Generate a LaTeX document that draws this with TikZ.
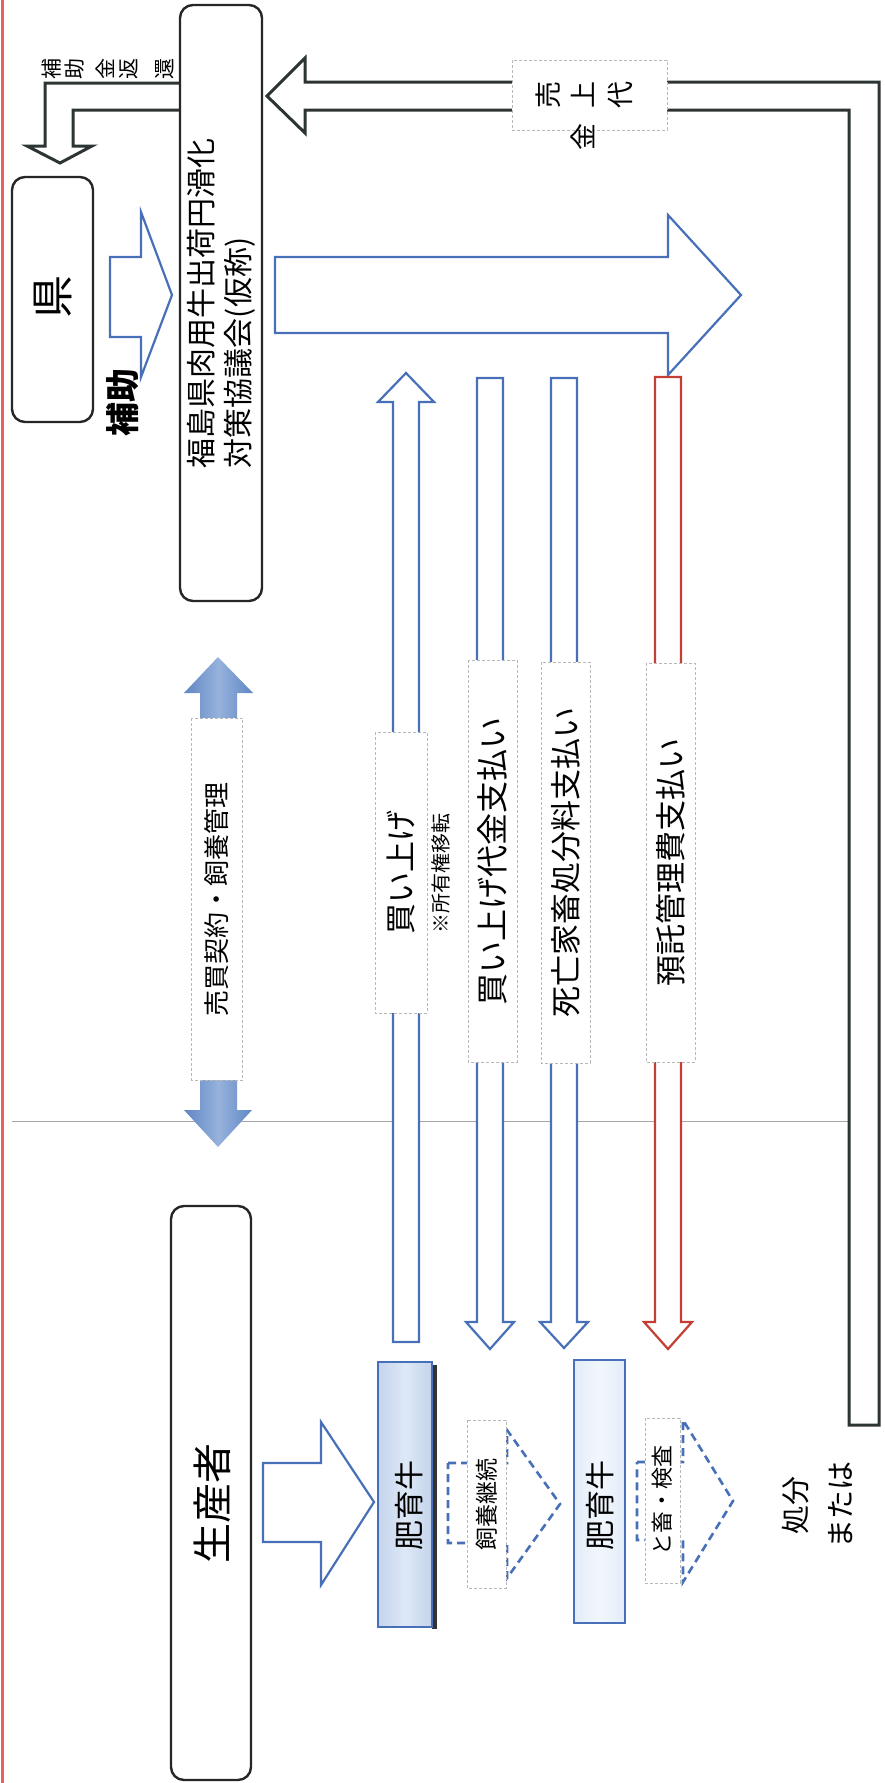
\documentclass[tikz,border=0pt]{standalone}
\usepackage{fontspec}
\setmainfont{Noto Sans CJK JP}
\definecolor{ablue}{RGB}{72,112,184}
\definecolor{fblue}{RGB}{96,134,196}
\definecolor{fbluel}{RGB}{150,178,220}
\definecolor{ared}{RGB}{196,62,52}
\definecolor{adark}{RGB}{45,52,52}
\definecolor{edgered}{RGB}{232,96,96}
\definecolor{cowa}{RGB}{196,212,236}
\definecolor{cowb}{RGB}{222,232,246}
\definecolor{cowc}{RGB}{226,236,248}
\definecolor{cowd}{RGB}{242,247,253}
\newcommand{\fsz}[2]{\fontsize{#1}{#2}\selectfont}
\begin{document}
\begin{tikzpicture}[x=1pt,y=-1pt,
  box/.style={draw=black!85, line width=2.4pt, rounded corners=13pt, fill=white, rotate=90, inner sep=0pt},
  tx/.style={rotate=90, inner sep=0pt},
  ch/.style={rotate=90, inner sep=0pt, text height=0.8em, text depth=0.2em},
  lblbox/.style={draw=black!28, densely dashed, line width=0.6pt, fill=white, inner sep=0pt},
  bluearrow/.style={draw=ablue, line width=2.2pt, fill=white, line join=miter},
  redarrow/.style={draw=ared, line width=2.2pt, fill=white, line join=miter},
  darkarrow/.style={draw=adark, line width=3pt, fill=white, line join=miter},
  dasharrow/.style={draw=ablue, line width=2.6pt, dash pattern=on 8pt off 5pt},
  cowbox/.style={draw=ablue, line width=1.3pt, rotate=90, inner sep=0pt}
]
\useasboundingbox (0,0) rectangle (885,1783);
\fill[white] (0,0) rectangle (885,1783);
% scan edge and fold line
\draw[edgered, line width=3pt] (2,0) -- (2,1783);
\draw[black!35, line width=0.8pt] (12,1121) -- (870,1121);

% arrow 補助金返還 (L-shaped)
\draw[darkarrow] (181,83) -- (45,83) -- (45,146) -- (27,146) -- (60,163) -- (92,146) -- (73,146) -- (73,110) -- (181,110);
\node[ch, font=\fsz{21}{24}] (h1) at (56,69) {補};
\node[ch, font=\fsz{21}{24}] (h2) at (79,69) {助};
\node[ch, font=\fsz{21}{24}] (h3) at (110,69) {金};
\node[ch, font=\fsz{21}{24}] (h4) at (133,69) {返};
\node[ch, font=\fsz{21}{24}] (h5) at (169,69) {還};

% arrow 売上代金 (big black return arrow)
\draw[darkarrow] (267,96) -- (305,58) -- (305,82) -- (879,82) -- (879,1425) -- (849,1425) -- (849,110) -- (305,110) -- (305,133) -- cycle;
\node[lblbox, minimum width=155pt, minimum height=70pt] (uriL) at (589.5,95) {};
\node[ch, font=\fsz{27}{30}] (u1) at (555,95) {売};
\node[ch, font=\fsz{27}{30}] (u2) at (590,95) {上};
\node[ch, font=\fsz{27}{30}] (u3) at (627,95) {代};
\node[ch, font=\fsz{27}{30}] (u4) at (590,137) {金};

% 県 -> 協議会 arrow
\draw[bluearrow] (110,257) -- (141,257) -- (141,212) -- (172,295) -- (141,377) -- (141,337) -- (110,337) -- cycle;
% 協議会 -> big arrow
\draw[bluearrow] (275,257) -- (668,257) -- (668,215) -- (741,295) -- (668,375) -- (668,333) -- (275,333) -- cycle;

% 売買契約・飼養管理 double arrow
\shade[left color=fblue, right color=fblue, middle color=fbluel]
  (218,657) -- (253,693) -- (237,693) -- (237,1110) -- (252,1110) -- (218,1147) -- (184,1110) -- (200,1110) -- (200,693) -- (184,693) -- cycle;
\node[lblbox, rotate=90, minimum width=362pt, minimum height=51pt, font=\fsz{26}{30}] (baibaiL) at (217,899) {売買契約・飼養管理};

% 買い上げ (up)
\draw[bluearrow] (393,1342) -- (393,402) -- (378,402) -- (406,373) -- (434,402) -- (419,402) -- (419,1342) -- cycle;
\node[lblbox, rotate=90, minimum width=281pt, minimum height=52pt, font=\fsz{31}{36}] (kaiageL) at (401,872.5) {買い上げ};
\node[tx, font=\fsz{20}{24}] (shoyuu) at (441,873) {※所有権移転};

% 買い上げ代金支払い (down)
\draw[bluearrow] (477,378) -- (503,378) -- (503,1322) -- (514,1322) -- (490,1349) -- (466,1322) -- (477,1322) -- cycle;
\node[lblbox, rotate=90, minimum width=402pt, minimum height=49pt, font=\fsz{32}{36}] (daikinL) at (492.5,861) {買い上げ代金支払い};

% 死亡家畜処分料支払い (down)
\draw[bluearrow] (551,378) -- (577,378) -- (577,1322) -- (588,1322) -- (564,1348) -- (540,1322) -- (551,1322) -- cycle;
\node[lblbox, rotate=90, minimum width=401pt, minimum height=49pt, font=\fsz{31}{36}] (shiboL) at (565.5,862.5) {死亡家畜処分料支払い};

% 預託管理費支払い (down, red)
\draw[redarrow] (655,377) -- (681,377) -- (681,1322) -- (692,1322) -- (668,1349) -- (644,1322) -- (655,1322) -- cycle;
\node[lblbox, rotate=90, minimum width=399pt, minimum height=49pt, font=\fsz{31}{36}] (yotakuL) at (670.5,862.5) {預託管理費支払い};

% 生産者 -> 肥育牛
\draw[bluearrow] (263,1463) -- (321,1463) -- (321,1422) -- (374,1502) -- (321,1585) -- (321,1542) -- (263,1542) -- cycle;

% dashed arrows
\draw[dasharrow] (448,1463) -- (507,1463) -- (507,1430) -- (560,1504) -- (507,1578) -- (507,1543) -- (448,1543) -- cycle;
\node[lblbox, rotate=90, minimum width=168pt, minimum height=39pt, font=\fsz{23}{26}] (shiyouL) at (486.5,1504) {飼養継続};
\draw[dasharrow] (637,1462) -- (683,1462) -- (683,1420) -- (733,1501) -- (683,1582) -- (683,1540) -- (637,1540) -- cycle;
\node[lblbox, rotate=90, minimum width=165pt, minimum height=35pt, font=\fsz{22}{25}] (tochikuL) at (662.5,1500.5) {と畜・検査};

% main boxes
\node[box, minimum width=245pt, minimum height=81pt] (ken) at (52.5,299.5) {};
\node[tx, font=\fsz{43}{50}] (kenT) at (53,297) {県};
\node[tx, font=\fsz{34}{40}\bfseries] (hojo) at (123,402) {補助};
\node[box, minimum width=596pt, minimum height=82pt, align=left, font=\fsz{30}{37}] (fuku) at (221,303) {福島県肉用牛出荷円滑化\\対策協議会(仮称)};
\node[box, minimum width=574pt, minimum height=80pt] (seisan) at (211,1493) {};
\node[tx, font=\fsz{40}{48}] (seisanT) at (212,1503) {生産者};

% 肥育牛 boxes
\fill[black!80] (432,1365) rectangle (437,1629);
\node[cowbox, left color=cowa, right color=cowa, middle color=cowb, minimum width=265pt, minimum height=54pt] (hiiku1) at (405,1494.5) {};
\node[tx, font=\fsz{30}{36}] (hiiku1T) at (409,1505) {肥育牛};
\node[cowbox, left color=cowc, right color=cowc, middle color=cowd, minimum width=263pt, minimum height=51pt] (hiiku2) at (599.5,1491.5) {};
\node[tx, font=\fsz{30}{36}] (hiiku2T) at (600,1505) {肥育牛};

% 処分 または
\node[tx, align=center, font=\fsz{29}{45}] (shobun) at (817,1505) {処分\\または};
\end{tikzpicture}
\end{document}
